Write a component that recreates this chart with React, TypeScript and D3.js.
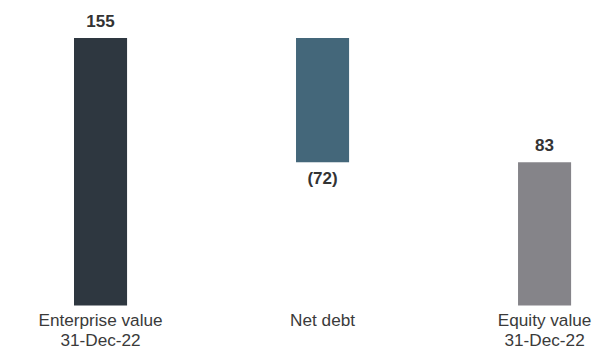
import React from "react";
import * as d3 from "d3";

const categories = ["Enterprise value|31-Dec-22", "Net debt", "Equity value|31-Dec-22"];
const values = [155, -72, 83];
const kinds = ["total", "delta", "total"];
const valueLabels = ["155", "(72)", "83"];
const colors = ["#2e3740", "#44677a", "#858489"];

const W = 595;
const H = 351;

export default function App() {
  const x = d3
    .scaleBand<string>()
    .domain(categories)
    .range([7.4, 637.7])
    .paddingInner(0.761)
    .paddingOuter(0.3);
  const y = d3.scaleLinear().domain([0, 155]).range([305.5, 38]);

  let running = 0;
  const bars = categories.map((c, i) => {
    let lo: number, hi: number;
    if (kinds[i] === "total") {
      lo = 0;
      hi = values[i];
      running = values[i];
    } else {
      const start = running;
      const end = running + values[i];
      lo = Math.min(start, end);
      hi = Math.max(start, end);
      running = end;
    }
    return { c, i, lo, hi, neg: values[i] < 0 };
  });

  const font = "'Liberation Sans', Arial, Helvetica, sans-serif";

  return (
    <svg
      width={W}
      height={H}
      style={{ position: "absolute", left: 0, top: 0, background: "#fff" }}
      fontFamily={font}
    >
      {bars.map((b) => {
        const bx = x(b.c)!;
        const bw = x.bandwidth();
        const top = y(b.hi);
        const bot = y(b.lo);
        const cx = bx + bw / 2;
        return (
          <g key={b.c}>
            <rect x={bx} y={top} width={bw} height={bot - top} fill={colors[b.i]} />
            <text
              x={cx}
              y={b.neg ? bot + 22 : top - 11}
              textAnchor="middle"
              fontSize={17}
              fontWeight="bold"
              fill="#333"
            >
              {valueLabels[b.i]}
            </text>
            {b.c.split("|").map((line, k) => (
              <text
                key={k}
                x={cx}
                y={326 + k * 20}
                textAnchor="middle"
                fontSize={17.2}
                fill="#3a3a3a"
              >
                {line}
              </text>
            ))}
          </g>
        );
      })}
    </svg>
  );
}
